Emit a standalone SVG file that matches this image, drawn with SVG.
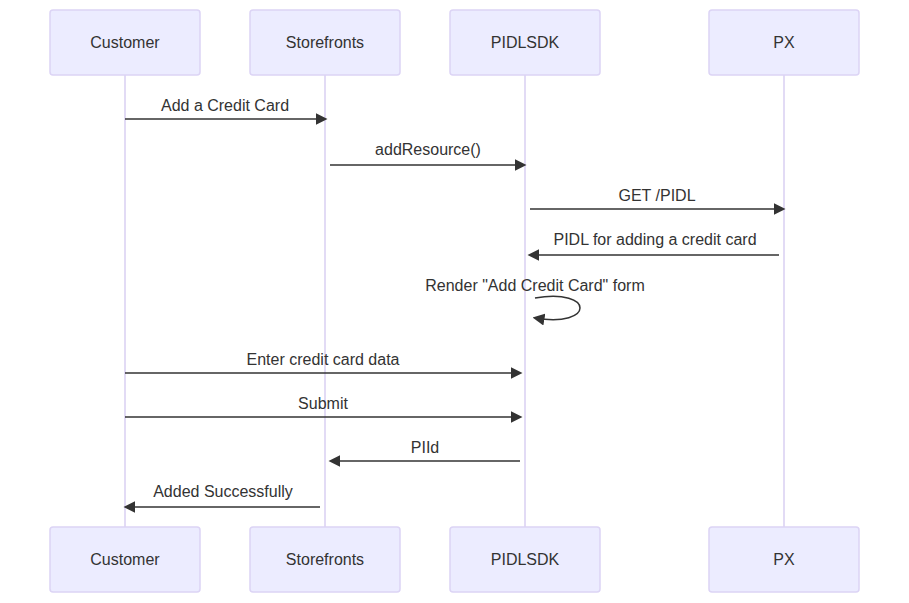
<svg xmlns="http://www.w3.org/2000/svg" width="909" height="603" viewBox="0 0 909 603">
<style>
.actor{fill:#ECECFF;stroke:#DCD4F5;stroke-width:1.5}
.life{stroke:#D9CFF2;stroke-width:1.5}
.lbl{font-family:"Liberation Sans",Arial,sans-serif;font-size:16px;fill:#333;text-anchor:middle}
.msg{stroke:#333;stroke-width:1.5;fill:none}
</style>
<defs>
<marker id="ah" viewBox="0 0 10 10" refX="7.9" refY="5" markerUnits="userSpaceOnUse" markerWidth="12" markerHeight="12" orient="auto">
<path d="M0,0 L10,5 L0,10 z" fill="#333"/>
</marker>
</defs>
<rect width="909" height="603" fill="#fff"/>
<g id="lifelines">
<line class="life" x1="125" y1="75" x2="125" y2="527"/>
<line class="life" x1="325" y1="75" x2="325" y2="527"/>
<line class="life" x1="525" y1="75" x2="525" y2="527"/>
<line class="life" x1="784" y1="75" x2="784" y2="527"/>
</g>
<g id="customer-top"><rect class="actor" x="50" y="10" width="150" height="65" rx="3"/><text class="lbl" x="125" y="48">Customer</text></g>
<g id="storefronts-top"><rect class="actor" x="250" y="10" width="150" height="65" rx="3"/><text class="lbl" x="325" y="48">Storefronts</text></g>
<g id="pidlsdk-top"><rect class="actor" x="450" y="10" width="150" height="65" rx="3"/><text class="lbl" x="525" y="48">PIDLSDK</text></g>
<g id="px-top"><rect class="actor" x="709" y="10" width="150" height="65" rx="3"/><text class="lbl" x="784" y="48">PX</text></g>
<g id="customer-bottom"><rect class="actor" x="50" y="527" width="150" height="65" rx="3"/><text class="lbl" x="125" y="565">Customer</text></g>
<g id="storefronts-bottom"><rect class="actor" x="250" y="527" width="150" height="65" rx="3"/><text class="lbl" x="325" y="565">Storefronts</text></g>
<g id="pidlsdk-bottom"><rect class="actor" x="450" y="527" width="150" height="65" rx="3"/><text class="lbl" x="525" y="565">PIDLSDK</text></g>
<g id="px-bottom"><rect class="actor" x="709" y="527" width="150" height="65" rx="3"/><text class="lbl" x="784" y="565">PX</text></g>
<g id="connectors">
<line class="msg" x1="125" y1="119" x2="325" y2="119" marker-end="url(#ah)"/>
<text class="lbl" x="225" y="111">Add a Credit Card</text>
<line class="msg" x1="330" y1="165" x2="524" y2="165" marker-end="url(#ah)"/>
<text class="lbl" x="428" y="155">addResource()</text>
<line class="msg" x1="530" y1="209" x2="783" y2="209" marker-end="url(#ah)"/>
<text class="lbl" x="657" y="201">GET /PIDL</text>
<line class="msg" x1="779" y1="255" x2="530" y2="255" marker-end="url(#ah)"/>
<text class="lbl" x="655" y="245">PIDL for adding a credit card</text>
<path class="msg" d="M535,298 C595,288 595,328 535,318" marker-end="url(#ah)"/>
<text class="lbl" x="535" y="291">Render "Add Credit Card" form</text>
<line class="msg" x1="125" y1="373" x2="520" y2="373" marker-end="url(#ah)"/>
<text class="lbl" x="323" y="365">Enter credit card data</text>
<line class="msg" x1="125" y1="417" x2="520" y2="417" marker-end="url(#ah)"/>
<text class="lbl" x="323" y="409">Submit</text>
<line class="msg" x1="520" y1="461" x2="331" y2="461" marker-end="url(#ah)"/>
<text class="lbl" x="425" y="453">PIId</text>
<line class="msg" x1="320" y1="507" x2="126" y2="507" marker-end="url(#ah)"/>
<text class="lbl" x="223" y="497">Added Successfully</text>
</g>
</svg>
